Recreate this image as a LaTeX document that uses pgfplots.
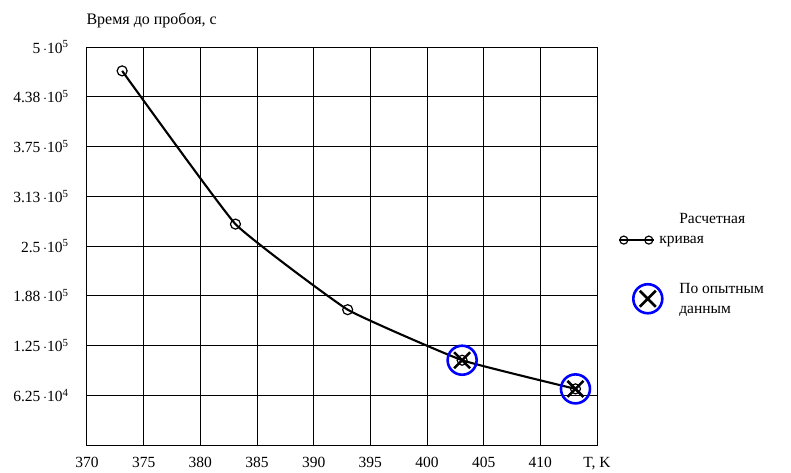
\documentclass[border=0pt]{standalone}
\usepackage{pgfplots}
\pgfplotsset{compat=1.18}
\usepackage{fontspec}
\setmainfont{Liberation Serif}

% blue ring with a black cross (experimental points)
\pgfdeclareplotmark{ringx}{%
  \pgfsetlinewidth{2.6pt}%
  \pgfsetstrokecolor{blue}%
  \pgfpathcircle{\pgfpointorigin}{14.5pt}%
  \pgfusepathqstroke
  \pgfsetstrokecolor{black}%
  \pgfpathmoveto{\pgfpoint{-8pt}{-8pt}}\pgfpathlineto{\pgfpoint{8pt}{8pt}}%
  \pgfpathmoveto{\pgfpoint{-8pt}{8pt}}\pgfpathlineto{\pgfpoint{8pt}{-8pt}}%
  \pgfusepathqstroke}

\begin{document}
\begin{tikzpicture}
\begin{axis}[
    at={(0,0)}, anchor=south west,
    scale only axis,
    width=510pt, height=398pt,
    xmin=370, xmax=415, ymin=0, ymax=500000,
    xtick={370,375,...,415},
    xticklabels={370,375,380,385,390,395,400,405,410,{T, K}},
    ytick={0,62500,125000,187500,250000,312500,375000,437500,500000},
    yticklabels={{},
      {6.25\,$\cdot$10\textsuperscript{4}},
      {1.25\,$\cdot$10\textsuperscript{5}},
      {1.88\,$\cdot$10\textsuperscript{5}},
      {2.5\,$\cdot$10\textsuperscript{5}},
      {3.13\,$\cdot$10\textsuperscript{5}},
      {3.75\,$\cdot$10\textsuperscript{5}},
      {4.38\,$\cdot$10\textsuperscript{5}},
      {5\,$\cdot$10\textsuperscript{5}}},
    scaled y ticks=false,
    major tick length=0pt,
    grid=major,
    grid style={black, line width=1pt},
    axis line style={black, line width=1pt},
    tick label style={font=\fontsize{15.5}{17}\selectfont},
    xticklabel style={yshift=-9pt},
    yticklabel style={xshift=-15pt},
    ylabel={Время до пробоя, с},
    every axis y label/.style={at={(rel axis cs:0,1)}, anchor=south west,
      font=\fontsize{16}{18}\selectfont, yshift=16pt, xshift=-4pt},
    legend style={at={(1,0.46)}, anchor=west, draw=none, fill=none,
      font=\fontsize{15.5}{20}\selectfont,
      nodes={align=left}, row sep=34pt, xshift=18pt, yshift=-2pt},
    legend cell align=left,
]
\addplot[black, line width=2.1pt, smooth, tension=0.2,
    mark=o, mark size=5pt, mark options={line width=1.2pt, fill=none},
    legend image code/.code={
      \path[draw=none, fill=none] (0pt,-16pt) rectangle (31pt,16pt);
      \draw[black, line width=1.2pt] (0pt,-11pt) -- (35pt,-11pt);
      \draw[black, line width=1.2pt] (5pt,-11pt) circle (4pt) (30pt,-11pt) circle (4pt);}]
    coordinates {
    (373.1, 470000)
    (383.1, 277500)
    (393.0, 170000)
    (403.1, 106500)
    (413.1, 70500)
};
\addlegendentry{\hspace*{15pt}Расчетная\\\hspace*{-5pt}кривая}
\addplot[only marks, mark=ringx,
    legend image code/.code={
      \path[draw=none, fill=none] (0pt,-16pt) rectangle (31pt,16pt);
      \pgfsetplotmarksize{14.5pt}
      \pgftransformshift{\pgfpoint{29pt}{0pt}}
      \pgfuseplotmark{ringx};}]
    coordinates {
    (403.1, 106500)
    (413.1, 70500)
};
\addlegendentry{\hspace*{15pt}По опытным\\\hspace*{15pt}данным}
\end{axis}
\pgfresetboundingbox
\path[use as bounding box] (-87pt,-27pt) rectangle (704pt,445pt);
\end{tikzpicture}
\end{document}
